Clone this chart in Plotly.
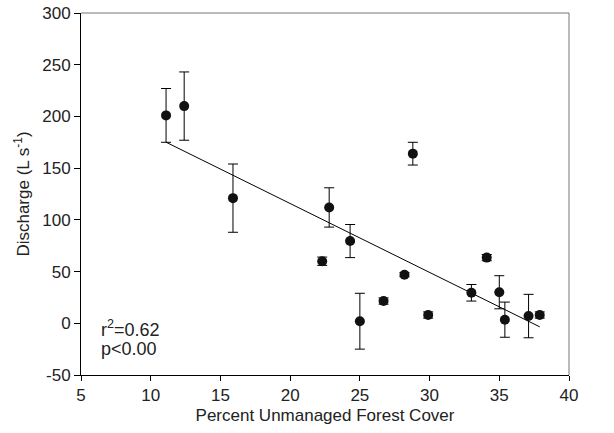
import plotly.graph_objects as go

# Data
forest_cover = [11.1, 12.4, 15.9, 22.3, 22.8, 24.3, 25.0, 26.7, 28.2, 28.8, 29.9, 33.0, 34.1, 35.0, 35.4, 37.1, 37.9]
discharge    = [201,  210,  121,  60,   112,  79.5, 2,    21.5, 47,   164,  8,    29.5, 63.5, 30,   3.5,  7,    8]
error        = [26,   33,   33,   4,    19,   16,   27,   3,    2,    11,   3,    8,    3,    16,   17,   21,   3]

# Regression line
fit_intercept = 249.0
fit_slope = -6.66
fit_x = [11.1, 37.9]
fit_y = [fit_intercept + fit_slope * x for x in fit_x]

x_ticks = [5, 10, 15, 20, 25, 30, 35, 40]
y_ticks = [-50, 0, 50, 100, 150, 200, 250, 300]

stats_lines = ["r<sup>2</sup>=0.62", "p&lt;0.00"]

font_family = "Liberation Sans, Arial, Helvetica, sans-serif"
text_color = "#222222"

fig = go.Figure()
fig.add_trace(go.Scatter(
    x=fit_x, y=fit_y, mode="lines",
    line=dict(color="black", width=1),
    showlegend=False, hoverinfo="skip",
))
fig.add_trace(go.Scatter(
    x=forest_cover, y=discharge, mode="markers",
    marker=dict(color="#111111", size=10),
    error_y=dict(type="data", array=error, visible=True,
                 color="black", thickness=1, width=5),
    showlegend=False,
))

for txt, ypos in zip(stats_lines, [0.128, 0.072]):
    fig.add_annotation(
        x=0.037, y=ypos, xref="paper", yref="paper",
        xanchor="left", yanchor="middle", align="left", showarrow=False,
        text=txt,
        font=dict(family=font_family, size=18, color=text_color),
    )

# top and right frame lines (grey)
fig.add_shape(type="line", xref="paper", yref="paper", x0=0, x1=1, y0=1, y1=1,
              line=dict(color="#777777", width=1))
fig.add_shape(type="line", xref="paper", yref="paper", x0=1, x1=1, y0=0, y1=1,
              line=dict(color="#777777", width=1))

fig.update_layout(
    width=614, height=433,
    margin=dict(l=81, r=45, t=13, b=58),
    paper_bgcolor="white", plot_bgcolor="white",
    font=dict(family=font_family, size=17, color=text_color),
    xaxis=dict(
        range=[5, 40], tickvals=x_ticks, ticktext=[str(v) for v in x_ticks],
        showgrid=False, zeroline=False, showline=True, linecolor="black", linewidth=1,
        ticks="outside", ticklen=5, tickcolor="black", automargin=False,
        title=dict(text="Percent Unmanaged Forest Cover", standoff=4,
                   font=dict(size=17)),
        tickfont=dict(size=17),
    ),
    yaxis=dict(
        range=[-50, 300], tickvals=y_ticks, ticktext=[str(v) for v in y_ticks],
        showgrid=False, zeroline=False, showline=True, linecolor="black", linewidth=1,
        ticks="outside", ticklen=6, tickcolor="black", automargin=False,
        title=dict(text="Discharge (L s<sup>-1</sup>)", standoff=8,
                   font=dict(size=17)),
        tickfont=dict(size=17),
    ),
)

fig.write_html("out.html", config={"displayModeBar": False},
               post_script="document.body.style.margin='0';")
